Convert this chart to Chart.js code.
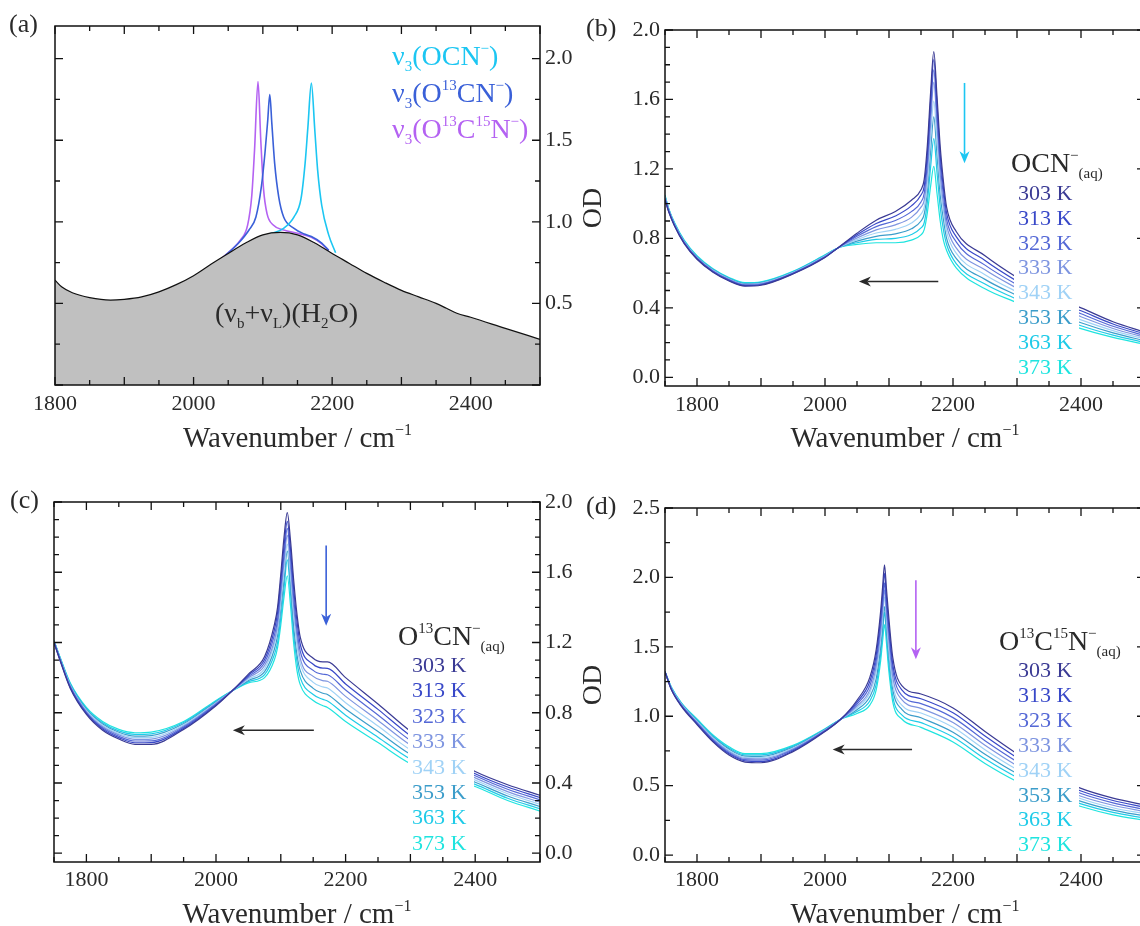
<!DOCTYPE html>
<html lang="en">
<head>
    <meta charset="UTF-8">
    <title>OCN- isotopologues in water: temperature dependent spectra</title>
    <script src="https://cdn.jsdelivr.net/npm/chart.js"></script>
    <style>
        body { margin: 0; background: #fff; width: 1140px; height: 926px; overflow: hidden; position: relative; }
        canvas { position: absolute; }
    </style>
</head>
<body>
    <canvas id="chartA" width="575" height="460" style="left:0;top:0"></canvas>
    <canvas id="chartB" width="575" height="460" style="left:575px;top:0"></canvas>
    <canvas id="chartC" width="575" height="466" style="left:0;top:460px"></canvas>
    <canvas id="chartD" width="575" height="466" style="left:575px;top:460px"></canvas>

    <script>
        const FONT = '"Liberation Serif", "DejaVu Serif", serif';

        // (a) water (bend + libration) combination band and the three nu3 peaks
        const waterWn = [1800, 1810, 1825, 1850, 1880, 1900, 1925, 1950, 1975, 2000, 2025, 2050, 2075, 2100, 2125, 2150, 2175, 2200, 2225, 2250, 2275, 2300, 2325, 2350, 2365, 2380, 2400, 2450, 2500];
        const waterOD = [0.643, 0.60, 0.565, 0.535, 0.52, 0.525, 0.54, 0.571, 0.615, 0.67, 0.74, 0.806, 0.87, 0.92, 0.935, 0.92, 0.87, 0.806, 0.745, 0.684, 0.63, 0.58, 0.54, 0.50, 0.47, 0.44, 0.415, 0.347, 0.28];
        const ocnWn = [2110, 2130, 2145, 2155, 2161, 2165, 2170, 2175, 2179, 2185, 2195, 2205];
        const ocnOD = [0.925, 0.96, 1.03, 1.14, 1.36, 1.58, 1.85, 1.56, 1.32, 1.10, 0.92, 0.81];
        const o13cnWn = [2045, 2065, 2080, 2090, 2098, 2103, 2107, 2110, 2113, 2117, 2123, 2130, 2145, 2160, 2170, 2185, 2195];
        const o13cnOD = [0.79, 0.87, 0.95, 1.03, 1.22, 1.42, 1.62, 1.78, 1.60, 1.36, 1.15, 1.03, 0.96, 0.925, 0.91, 0.87, 0.825];
        const o13c15nWn = [2040, 2055, 2068, 2078, 2084, 2088, 2093, 2097, 2101, 2106, 2115, 2130, 2150, 2170, 2185, 2195];
        const o13c15nOD = [0.775, 0.83, 0.89, 0.98, 1.16, 1.44, 1.86, 1.50, 1.20, 1.05, 0.98, 0.95, 0.93, 0.905, 0.865, 0.825];

        // (b)-(d) temperature series, one row per wavenumber, columns 303 ... 373 K
        const temps = ['303 K', '313 K', '323 K', '333 K', '343 K', '353 K', '363 K', '373 K'];

        const ocnTWn = [1750, 1756, 1765, 1780, 1800, 1825, 1850, 1875, 1900, 1950, 2000, 2020, 2050, 2080, 2110, 2135, 2150, 2155, 2160, 2165, 2170, 2175, 2180, 2185, 2190, 2205, 2250, 2300, 2350, 2400, 2450, 2500];
        const ocnTOD = [
            [1.02, 1.025, 1.03, 1.035, 1.04, 1.04, 1.045, 1.05],
            [0.95, 0.953, 0.956, 0.959, 0.962, 0.965, 0.967, 0.97],
            [0.87, 0.873, 0.876, 0.879, 0.88, 0.883, 0.886, 0.89],
            [0.77, 0.773, 0.776, 0.779, 0.78, 0.783, 0.786, 0.79],
            [0.68, 0.683, 0.686, 0.689, 0.69, 0.693, 0.696, 0.70],
            [0.605, 0.608, 0.611, 0.614, 0.616, 0.619, 0.622, 0.625],
            [0.555, 0.558, 0.561, 0.564, 0.566, 0.569, 0.572, 0.575],
            [0.525, 0.528, 0.531, 0.534, 0.536, 0.539, 0.542, 0.545],
            [0.53, 0.533, 0.536, 0.539, 0.541, 0.544, 0.547, 0.55],
            [0.595, 0.597, 0.599, 0.601, 0.603, 0.605, 0.608, 0.61],
            [0.69, 0.692, 0.694, 0.696, 0.698, 0.70, 0.703, 0.705],
            [0.745, 0.745, 0.745, 0.745, 0.745, 0.745, 0.745, 0.745],
            [0.83, 0.821, 0.812, 0.802, 0.793, 0.784, 0.775, 0.765],
            [0.905, 0.886, 0.868, 0.849, 0.831, 0.812, 0.794, 0.775],
            [0.955, 0.929, 0.903, 0.878, 0.852, 0.826, 0.80, 0.775],
            [1.02, 0.987, 0.954, 0.921, 0.888, 0.855, 0.822, 0.79],
            [1.08, 1.05, 1.01, 0.98, 0.94, 0.90, 0.86, 0.82],
            [1.14, 1.10, 1.06, 1.02, 0.98, 0.94, 0.89, 0.85],
            [1.34, 1.29, 1.24, 1.18, 1.12, 1.07, 1.01, 0.95],
            [1.64, 1.59, 1.53, 1.46, 1.38, 1.30, 1.21, 1.10],
            [1.875, 1.83, 1.77, 1.70, 1.59, 1.50, 1.375, 1.215],
            [1.62, 1.57, 1.51, 1.45, 1.36, 1.28, 1.18, 1.06],
            [1.33, 1.28, 1.23, 1.17, 1.11, 1.05, 0.98, 0.90],
            [1.13, 1.09, 1.05, 1.00, 0.96, 0.91, 0.85, 0.79],
            [0.98, 0.945, 0.91, 0.875, 0.84, 0.80, 0.765, 0.73],
            [0.84, 0.81, 0.78, 0.745, 0.715, 0.685, 0.655, 0.63],
            [0.70, 0.673, 0.646, 0.619, 0.591, 0.564, 0.537, 0.51],
            [0.575, 0.554, 0.533, 0.513, 0.492, 0.471, 0.45, 0.43],
            [0.47, 0.453, 0.436, 0.419, 0.401, 0.384, 0.367, 0.35],
            [0.40, 0.383, 0.366, 0.349, 0.331, 0.314, 0.297, 0.28],
            [0.32, 0.307, 0.294, 0.281, 0.269, 0.256, 0.243, 0.23],
            [0.26, 0.25, 0.24, 0.23, 0.22, 0.21, 0.20, 0.19]
        ];

        const o13cnTWn = [1750, 1760, 1775, 1800, 1825, 1850, 1875, 1900, 1950, 2000, 2025, 2050, 2075, 2090, 2095, 2100, 2105, 2110, 2115, 2120, 2125, 2130, 2150, 2165, 2172, 2200, 2250, 2300, 2350, 2400, 2450, 2500];
        const o13cnTOD = [
            [1.20, 1.20, 1.20, 1.205, 1.205, 1.21, 1.21, 1.21],
            [1.09, 1.093, 1.096, 1.099, 1.101, 1.104, 1.107, 1.11],
            [0.94, 0.944, 0.949, 0.953, 0.957, 0.961, 0.966, 0.97],
            [0.79, 0.796, 0.801, 0.807, 0.813, 0.819, 0.824, 0.83],
            [0.70, 0.707, 0.714, 0.721, 0.729, 0.736, 0.743, 0.75],
            [0.65, 0.658, 0.666, 0.674, 0.681, 0.689, 0.697, 0.705],
            [0.62, 0.629, 0.639, 0.648, 0.658, 0.667, 0.677, 0.686],
            [0.62, 0.63, 0.64, 0.65, 0.66, 0.67, 0.68, 0.69],
            [0.705, 0.711, 0.718, 0.724, 0.731, 0.737, 0.744, 0.75],
            [0.84, 0.844, 0.849, 0.853, 0.857, 0.861, 0.866, 0.87],
            [0.925, 0.925, 0.925, 0.925, 0.925, 0.925, 0.925, 0.925],
            [1.02, 1.013, 1.006, 0.999, 0.991, 0.984, 0.977, 0.97],
            [1.12, 1.103, 1.086, 1.069, 1.051, 1.034, 1.017, 1.00],
            [1.30, 1.27, 1.24, 1.21, 1.19, 1.16, 1.13, 1.10],
            [1.40, 1.37, 1.33, 1.30, 1.27, 1.24, 1.20, 1.17],
            [1.59, 1.55, 1.51, 1.47, 1.43, 1.39, 1.34, 1.30],
            [1.80, 1.75, 1.70, 1.66, 1.61, 1.56, 1.51, 1.46],
            [1.94, 1.89, 1.85, 1.81, 1.76, 1.72, 1.67, 1.58],
            [1.78, 1.73, 1.68, 1.63, 1.58, 1.53, 1.48, 1.41],
            [1.55, 1.50, 1.45, 1.40, 1.35, 1.29, 1.24, 1.19],
            [1.36, 1.32, 1.27, 1.23, 1.18, 1.13, 1.09, 1.04],
            [1.23, 1.19, 1.15, 1.11, 1.08, 1.04, 1.00, 0.96],
            [1.11, 1.076, 1.041, 1.007, 0.973, 0.939, 0.904, 0.87],
            [1.09, 1.054, 1.019, 0.983, 0.947, 0.911, 0.876, 0.84],
            [1.09, 1.053, 1.016, 0.979, 0.941, 0.904, 0.867, 0.83],
            [1.00, 0.964, 0.929, 0.893, 0.857, 0.821, 0.786, 0.75],
            [0.85, 0.819, 0.787, 0.756, 0.724, 0.693, 0.661, 0.63],
            [0.695, 0.669, 0.642, 0.616, 0.589, 0.563, 0.536, 0.51],
            [0.57, 0.551, 0.533, 0.514, 0.496, 0.477, 0.459, 0.44],
            [0.465, 0.453, 0.441, 0.429, 0.416, 0.404, 0.392, 0.38],
            [0.39, 0.377, 0.364, 0.351, 0.339, 0.326, 0.313, 0.30],
            [0.33, 0.317, 0.304, 0.291, 0.279, 0.266, 0.253, 0.24]
        ];

        const o13c15nTWn = [1750, 1760, 1775, 1800, 1825, 1850, 1875, 1900, 1950, 2000, 2025, 2050, 2070, 2080, 2087, 2090, 2093, 2096, 2099, 2106, 2120, 2150, 2200, 2250, 2300, 2350, 2400, 2450, 2500];
        const o13c15nTOD = [
            [1.32, 1.32, 1.32, 1.32, 1.32, 1.32, 1.32, 1.32],
            [1.19, 1.193, 1.196, 1.199, 1.201, 1.204, 1.207, 1.21],
            [1.075, 1.079, 1.083, 1.087, 1.091, 1.095, 1.098, 1.10],
            [0.94, 0.946, 0.951, 0.957, 0.963, 0.969, 0.974, 0.98],
            [0.815, 0.822, 0.829, 0.836, 0.844, 0.851, 0.858, 0.865],
            [0.72, 0.729, 0.737, 0.746, 0.754, 0.763, 0.771, 0.78],
            [0.67, 0.679, 0.687, 0.696, 0.704, 0.713, 0.721, 0.73],
            [0.665, 0.674, 0.684, 0.693, 0.702, 0.711, 0.721, 0.73],
            [0.745, 0.751, 0.758, 0.764, 0.771, 0.777, 0.784, 0.79],
            [0.89, 0.893, 0.896, 0.899, 0.901, 0.904, 0.907, 0.91],
            [0.98, 0.98, 0.98, 0.98, 0.98, 0.98, 0.98, 0.98],
            [1.115, 1.101, 1.088, 1.074, 1.061, 1.047, 1.034, 1.02],
            [1.28, 1.25, 1.22, 1.19, 1.17, 1.14, 1.11, 1.08],
            [1.48, 1.44, 1.40, 1.36, 1.32, 1.27, 1.23, 1.19],
            [1.76, 1.71, 1.66, 1.61, 1.56, 1.50, 1.45, 1.40],
            [1.93, 1.87, 1.81, 1.76, 1.71, 1.64, 1.60, 1.54],
            [2.09, 2.03, 1.96, 1.91, 1.86, 1.79, 1.75, 1.66],
            [1.92, 1.86, 1.80, 1.75, 1.70, 1.63, 1.59, 1.53],
            [1.75, 1.69, 1.64, 1.58, 1.52, 1.47, 1.41, 1.36],
            [1.42, 1.37, 1.33, 1.28, 1.23, 1.19, 1.14, 1.10],
            [1.22, 1.19, 1.15, 1.12, 1.08, 1.05, 1.01, 0.98],
            [1.16, 1.126, 1.091, 1.057, 1.023, 0.989, 0.954, 0.92],
            [1.06, 1.025, 0.990, 0.955, 0.920, 0.885, 0.850, 0.815],
            [0.89, 0.857, 0.824, 0.791, 0.759, 0.726, 0.693, 0.66],
            [0.73, 0.701, 0.673, 0.644, 0.616, 0.587, 0.559, 0.53],
            [0.59, 0.567, 0.544, 0.521, 0.499, 0.476, 0.453, 0.43],
            [0.48, 0.461, 0.443, 0.424, 0.406, 0.387, 0.369, 0.35],
            [0.41, 0.393, 0.376, 0.359, 0.341, 0.324, 0.307, 0.29],
            [0.36, 0.344, 0.329, 0.313, 0.297, 0.281, 0.266, 0.25]
        ];

        const tempColors = ['#3a3a94', '#3848c8', '#5468d6', '#7e95e0', '#a0d2f6', '#3c9dca', '#1fcbe8', '#1fe4df'];
        const cCyan = '#1cc6f2', cBlue = '#3a60d8', cPurple = '#b462f2', cInk = '#2a2a2a';

        // text with sub/superscripts: parts = [[text, ''|'sup'|'sub'], ...]
        function drawRich(ctx, parts, x, y, size, color, align) {
            const small = Math.round(size * 0.55);
            const segs = parts.map(([t, m]) => {
                const fs = m ? small : size;
                ctx.font = fs + 'px ' + FONT;
                return { t, m, fs, w: ctx.measureText(t).width };
            });
            const total = segs.reduce((s, p) => s + p.w, 0);
            let cx = align === 'center' ? x - total / 2 : x;
            ctx.fillStyle = color;
            ctx.textAlign = 'left';
            ctx.textBaseline = 'alphabetic';
            segs.forEach(p => {
                ctx.font = p.fs + 'px ' + FONT;
                const dy = p.m === 'sup' ? -size * 0.42 : p.m === 'sub' ? size * 0.22 : 0;
                ctx.fillText(p.t, cx, y + dy);
                cx += p.w;
            });
        }

        function drawArrow(ctx, x1, y1, x2, y2, color) {
            const head = 12, ang = Math.atan2(y2 - y1, x2 - x1);
            const c = Math.cos(ang), s = Math.sin(ang);
            ctx.strokeStyle = color;
            ctx.fillStyle = color;
            ctx.lineWidth = 1.6;
            ctx.beginPath();
            ctx.moveTo(x1, y1);
            ctx.lineTo(x2 - c * head * 0.7, y2 - s * head * 0.7);
            ctx.stroke();
            ctx.beginPath();
            ctx.moveTo(x2, y2);
            ctx.lineTo(x2 - head * c + 5 * s, y2 - head * s - 5 * c);
            ctx.lineTo(x2 - head * 0.7 * c, y2 - head * 0.7 * s);
            ctx.lineTo(x2 - head * c - 5 * s, y2 - head * s + 5 * c);
            ctx.closePath();
            ctx.fill();
        }

        // frame, inward ticks on all four sides, titles, panel letter, legend, arrows
        function decoPlugin(p) {
            return {
                id: 'deco',
                afterDraw(chart) {
                    const ctx = chart.ctx, a = chart.chartArea;
                    const xs = chart.scales.x, ys = chart.scales.y;
                    ctx.save();

                    if (p.legend) {
                        const L = p.legend;
                        ctx.fillStyle = '#fff';
                        ctx.fillRect(L.box[0], L.box[1], L.box[2] - L.box[0], Math.min(L.box[3], a.bottom - 2) - L.box[1]);
                        drawRich(ctx, L.head, L.hx, L.hy, 28, cInk);
                        temps.forEach((t, i) => {
                            ctx.font = '22px ' + FONT;
                            ctx.fillStyle = tempColors[i];
                            ctx.textAlign = 'left';
                            ctx.textBaseline = 'alphabetic';
                            ctx.fillText(t, L.x, L.y0 + i * L.dy);
                        });
                    }
                    (p.arrows || []).forEach(ar => {
                        drawArrow(ctx, xs.getPixelForValue(ar[0]), ys.getPixelForValue(ar[1]),
                            xs.getPixelForValue(ar[2]), ys.getPixelForValue(ar[3]), ar[4]);
                    });
                    (p.notes || []).forEach(n => drawRich(ctx, n.parts, n.x, n.y, 28, n.color));

                    // frame
                    ctx.strokeStyle = '#111';
                    ctx.lineWidth = 1.5;
                    ctx.strokeRect(a.left, a.top, a.right - a.left, a.bottom - a.top);

                    // ticks
                    ctx.lineWidth = 1.3;
                    ctx.beginPath();
                    for (let k = Math.ceil(xs.min / 50 - 1e-9); k * 50 <= xs.max + 1e-9; k++) {
                        const v = k * 50, px = xs.getPixelForValue(v);
                        const len = v % 100 === 0 ? 8 : 5;
                        ctx.moveTo(px, a.bottom); ctx.lineTo(px, a.bottom - len);
                        ctx.moveTo(px, a.top); ctx.lineTo(px, a.top + len);
                    }
                    for (let k = Math.ceil(ys.min / p.yMinor - 1e-9); k * p.yMinor <= ys.max + 1e-9; k++) {
                        const v = k * p.yMinor, py = ys.getPixelForValue(v);
                        const r = v / p.yStep;
                        const len = Math.abs(r - Math.round(r)) < 1e-6 ? 8 : 5;
                        ctx.moveTo(a.left, py); ctx.lineTo(a.left + len, py);
                        ctx.moveTo(a.right, py); ctx.lineTo(a.right - len, py);
                    }
                    ctx.stroke();

                    // x title
                    drawRich(ctx, [['Wavenumber / cm', ''], ['\u22121', 'sup']],
                        (a.left + a.right) / 2, a.bottom + p.titleGap, 29, cInk, 'center');
                    // y title
                    if (p.yTitle) {
                        ctx.save();
                        ctx.translate(a.left - 71, (a.top + a.bottom) / 2);
                        ctx.rotate(-Math.PI / 2);
                        ctx.font = '28px ' + FONT;
                        ctx.fillStyle = cInk;
                        ctx.textAlign = 'center';
                        ctx.textBaseline = 'middle';
                        ctx.fillText('OD', 0, 0);
                        ctx.restore();
                    }
                    // panel letter
                    ctx.font = '26px ' + FONT;
                    ctx.fillStyle = cInk;
                    ctx.textAlign = 'left';
                    ctx.textBaseline = 'alphabetic';
                    ctx.fillText(p.letter, p.letterX, a.top + 6);
                    ctx.restore();
                }
            };
        }

        function makeChart(id, datasets, p) {
            const tickFont = { family: FONT, size: 22 };
            return new Chart(document.getElementById(id), {
                type: 'line',
                data: { datasets },
                options: {
                    responsive: false,
                    animation: false,
                    events: [],
                    layout: { padding: p.pad },
                    plugins: { legend: { display: false }, tooltip: { enabled: false } },
                    elements: { point: { radius: 0 } },
                    scales: {
                        x: {
                            type: 'linear', position: 'bottom', min: p.xMin, max: 2500,
                            grid: { display: false, drawTicks: false },
                            border: { display: false },
                            ticks: {
                                stepSize: 200, includeBounds: false, padding: p.xPad, color: cInk,
                                font: tickFont, maxRotation: 0, autoSkip: false,
                                callback: v => String(v)
                            },
                            afterFit: s => { s.height = p.xH; }
                        },
                        y: {
                            type: 'linear', position: p.yPos, min: p.yMin, max: p.yMax,
                            grid: { display: false, drawTicks: false },
                            border: { display: false },
                            ticks: {
                                stepSize: p.yStep, includeBounds: false, padding: 5, color: cInk,
                                font: tickFont, autoSkip: false,
                                callback: v => (p.hideZero && Math.abs(v) < 1e-9) ? '' : v.toFixed(1)
                            },
                            afterFit: s => { s.width = p.yW; }
                        }
                    }
                },
                plugins: [decoPlugin(p)]
            });
        }

        function tempDatasets(wn, rows) {
            return temps.map((t, j) => ({
                label: t,
                data: wn.map((w, i) => ({ x: w, y: rows[i][j] })),
                borderColor: tempColors[j],
                borderWidth: 1.2,
                fill: false,
                cubicInterpolationMode: 'monotone'
            }));
        }

        const pairs = (xs, ys) => xs.map((x, i) => ({ x, y: ys[i] }));

        // (a)
        makeChart('chartA', [
            { label: 'H2O', data: pairs(waterWn, waterOD), borderColor: '#111', borderWidth: 1.2,
              backgroundColor: '#c0c0c0', fill: 'origin', cubicInterpolationMode: 'monotone' },
            { label: 'OCN-', data: pairs(ocnWn, ocnOD), borderColor: cCyan, borderWidth: 1.6, fill: false, cubicInterpolationMode: 'monotone' },
            { label: 'O13CN-', data: pairs(o13cnWn, o13cnOD), borderColor: cBlue, borderWidth: 1.6, fill: false, cubicInterpolationMode: 'monotone' },
            { label: 'O13C15N-', data: pairs(o13c15nWn, o13c15nOD), borderColor: cPurple, borderWidth: 1.6, fill: false, cubicInterpolationMode: 'monotone' }
        ], {
            pad: { left: 55, top: 26, right: 0, bottom: 0 }, xMin: 1800, xH: 75, xPad: 6, titleGap: 62,
            yPos: 'right', yMin: 0, yMax: 2.2, yStep: 0.5, yMinor: 0.25, yW: 35, hideZero: true,
            letter: '(a)', letterX: 9,
            notes: [
                { x: 392, y: 65, color: cCyan, parts: [['\u03bd', ''], ['3', 'sub'], ['(OCN', ''], ['\u2212', 'sup'], [')', '']] },
                { x: 392, y: 102, color: cBlue, parts: [['\u03bd', ''], ['3', 'sub'], ['(O', ''], ['13', 'sup'], ['CN', ''], ['\u2212', 'sup'], [')', '']] },
                { x: 392, y: 138, color: cPurple, parts: [['\u03bd', ''], ['3', 'sub'], ['(O', ''], ['13', 'sup'], ['C', ''], ['15', 'sup'], ['N', ''], ['\u2212', 'sup'], [')', '']] },
                { x: 215, y: 322, color: cInk, parts: [['(\u03bd', ''], ['b', 'sub'], ['+\u03bd', ''], ['L', 'sub'], [')(H', ''], ['2', 'sub'], ['O)', '']] }
            ]
        });

        // (b)
        makeChart('chartB', tempDatasets(ocnTWn, ocnTOD), {
            pad: { left: 0, top: 30, right: 5, bottom: 0 }, xMin: 1750, xH: 74, xPad: 6, titleGap: 61,
            yPos: 'left', yMin: -0.05, yMax: 2.0, yStep: 0.4, yMinor: 0.1, yW: 90, yTitle: true,
            letter: '(b)', letterX: 11,
            legend: { head: [['OCN', ''], ['\u2212', 'sup'], ['(aq)', 'sub']], hx: 436, hy: 172,
                      x: 443, y0: 200, dy: 24.8, box: [439, 182, 504, 400] },
            arrows: [[2218, 1.695, 2218, 1.233, cCyan], [2177, 0.552, 2053, 0.552, cInk]]
        });

        // (c)
        makeChart('chartC', tempDatasets(o13cnTWn, o13cnTOD), {
            pad: { left: 54, top: 42, right: 0, bottom: 0 }, xMin: 1750, xH: 64, xPad: 5, titleGap: 61,
            yPos: 'right', yMin: -0.05, yMax: 2.0, yStep: 0.4, yMinor: 0.1, yW: 35,
            letter: '(c)', letterX: 10,
            legend: { head: [['O', ''], ['13', 'sup'], ['CN', ''], ['\u2212', 'sup'], ['(aq)', 'sub']], hx: 398, hy: 185,
                      x: 412, y0: 212, dy: 25.4, box: [408, 195, 474, 400] },
            arrows: [[2170, 1.753, 2170, 1.296, cBlue], [2151, 0.70, 2026, 0.70, cInk]]
        });

        // (d)
        makeChart('chartD', tempDatasets(o13c15nTWn, o13c15nTOD), {
            pad: { left: 0, top: 48, right: 5, bottom: 0 }, xMin: 1750, xH: 64, xPad: 5, titleGap: 61,
            yPos: 'left', yMin: -0.05, yMax: 2.5, yStep: 0.5, yMinor: 0.25, yW: 90, yTitle: true,
            letter: '(d)', letterX: 11,
            legend: { head: [['O', ''], ['13', 'sup'], ['C', ''], ['15', 'sup'], ['N', ''], ['\u2212', 'sup'], ['(aq)', 'sub']], hx: 424, hy: 190,
                      x: 443, y0: 217, dy: 24.9, box: [439, 198, 504, 400] },
            arrows: [[2142, 1.98, 2142, 1.41, cPurple], [2136, 0.76, 2012, 0.76, cInk]]
        });
    </script>
</body>
</html>
